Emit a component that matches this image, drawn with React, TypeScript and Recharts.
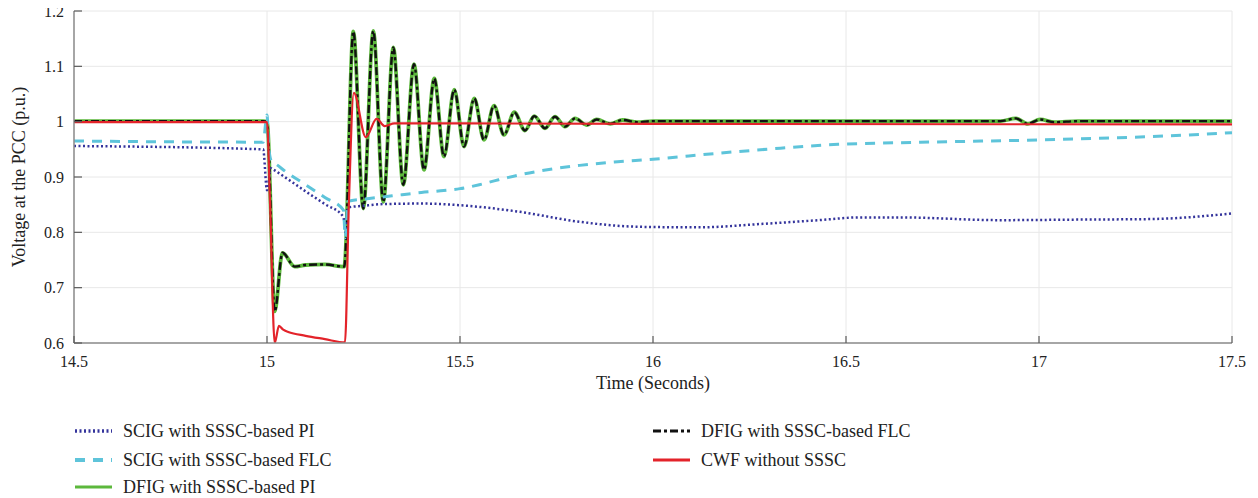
import { LineChart, Line, XAxis, YAxis, CartesianGrid, Label } from 'recharts';

// time axis and voltage axis ticks
const xTicks = [14.5, 15, 15.5, 16, 16.5, 17, 17.5];
const yTicks = [0.6, 0.7, 0.8, 0.9, 1, 1.1, 1.2];

// SCIG with SSSC-based PI
const scigPiT = [14.5, 14.99, 15.0, 15.01, 15.015, 15.05, 15.1, 15.15, 15.198, 15.203, 15.21, 15.25, 15.3, 15.4, 15.5, 15.655, 15.81, 15.966, 16.12, 16.277, 16.43, 16.536, 16.64, 16.9, 17.1, 17.29, 17.5];
const scigPiV = [0.956, 0.95, 0.876, 0.916, 0.914, 0.898, 0.874, 0.851, 0.828, 0.8, 0.845, 0.848, 0.851, 0.852, 0.849, 0.837, 0.819, 0.81, 0.809, 0.815, 0.822, 0.827, 0.827, 0.822, 0.823, 0.824, 0.834];

// SCIG with SSSC-based FLC
const scigFlcT = [14.5, 14.99, 15.0, 15.005, 15.012, 15.017, 15.05, 15.1, 15.15, 15.198, 15.203, 15.21, 15.25, 15.3, 15.35, 15.4, 15.45, 15.5, 15.55, 15.6, 15.655, 15.7, 15.81, 15.9, 16.0, 16.17, 16.33, 16.48, 16.64, 17.0, 17.29, 17.5];
const scigFlcV = [0.965, 0.963, 1.012, 0.95, 0.928, 0.926, 0.909, 0.886, 0.863, 0.84, 0.79, 0.856, 0.86, 0.864, 0.868, 0.872, 0.875, 0.879, 0.886, 0.895, 0.904, 0.91, 0.921, 0.927, 0.932, 0.943, 0.952, 0.959, 0.962, 0.967, 0.973, 0.98];

// DFIG (PI and FLC traces overlap)
const dfigT = [14.5, 14.99, 15.0, 15.02, 15.04, 15.072, 15.1, 15.15, 15.2, 15.2236, 15.2495, 15.2754, 15.3013, 15.3272, 15.3531, 15.3808, 15.4067, 15.4334, 15.4585, 15.4852, 15.5104, 15.537, 15.5622, 15.5881, 15.614, 15.6407, 15.6684, 15.6925, 15.7202, 15.7461, 15.772, 15.798, 15.828, 15.854, 15.889, 15.921, 15.96, 16.0, 16.9, 16.94, 16.971, 17.003, 17.04, 17.1, 17.5];
const dfigPiV = [1.001, 1.001, 1.0, 0.657, 0.763, 0.738, 0.741, 0.742, 0.738, 1.163, 0.843, 1.164, 0.855, 1.134, 0.886, 1.104, 0.913, 1.078, 0.937, 1.058, 0.955, 1.042, 0.967, 1.029, 0.976, 1.017, 0.984, 1.01, 0.988, 1.009, 0.991, 1.006, 0.994, 1.004, 0.996, 1.003, 0.999, 1.001, 1.001, 1.006, 0.996, 1.004, 0.999, 1.001, 1.001];
const dfigFlcV = [1.001, 1.001, 1.0, 0.657, 0.763, 0.738, 0.741, 0.742, 0.738, 1.163, 0.843, 1.164, 0.855, 1.134, 0.886, 1.104, 0.913, 1.078, 0.937, 1.058, 0.955, 1.042, 0.967, 1.029, 0.976, 1.017, 0.984, 1.01, 0.988, 1.009, 0.991, 1.006, 0.994, 1.004, 0.996, 1.003, 0.999, 1.001, 1.001, 1.006, 0.996, 1.004, 0.999, 1.001, 1.001];

// CWF without SSSC
const cwfT = [14.5, 15.0, 15.008, 15.02, 15.031, 15.042, 15.055, 15.1, 15.15, 15.202, 15.212, 15.225, 15.256, 15.284, 15.305, 15.33, 16.0, 17.5];
const cwfV = [0.999, 0.999, 0.85, 0.6, 0.631, 0.624, 0.62, 0.613, 0.607, 0.601, 0.85, 1.052, 0.972, 1.005, 0.992, 0.997, 0.996, 0.995];

const toPoints = (t: number[], v: number[]) => t.map((x, i) => ({ t: x, v: v[i] }));

const serif = '"Liberation Serif", "DejaVu Serif", serif';
const frame = '#8c8c8c';
const tickMark = '#5a5a5a';

const series = [
  { name: 'DFIG with SSSC-based PI', data: toPoints(dfigT, dfigPiV), color: '#5cb83c', width: 3.8, dash: undefined },
  { name: 'DFIG with SSSC-based FLC', data: toPoints(dfigT, dfigFlcV), color: '#111111', width: 2.4, dash: '8 3 3 3' },
  { name: 'SCIG with SSSC-based PI', data: toPoints(scigPiT, scigPiV), color: '#34349c', width: 2.5, dash: '2 2.5' },
  { name: 'SCIG with SSSC-based FLC', data: toPoints(scigFlcT, scigFlcV), color: '#5ec4da', width: 3, dash: '10 8' },
  { name: 'CWF without SSSC', data: toPoints(cwfT, cwfV), color: '#e3232a', width: 2.2, dash: undefined },
];

const legendItems = [
  { name: 'SCIG with SSSC-based PI', col: 0, row: 0 },
  { name: 'SCIG with SSSC-based FLC', col: 0, row: 1 },
  { name: 'DFIG with SSSC-based PI', col: 0, row: 2 },
  { name: 'DFIG with SSSC-based FLC', col: 1, row: 0 },
  { name: 'CWF without SSSC', col: 1, row: 1 },
];

// left ticks: label outside, short mark pointing into the plot
const LeftTick = ({ x, y, payload }: any) => (
  <g>
    <text x={x} y={y} dy="0.35em" textAnchor="end" fill="#222" fontSize={16} fontFamily={serif}>{String(payload.value)}</text>
    <line x1={x + 10} x2={x + 18} y1={y} y2={y} stroke={tickMark} strokeWidth={1.2} />
  </g>
);

const BottomTick = ({ x, y, payload }: any) => (
  <g>
    <text x={x} y={y} dy="0.71em" textAnchor="middle" fill="#222" fontSize={16} fontFamily={serif}>{String(payload.value)}</text>
    <line x1={x} x2={x} y1={y - 13} y2={y - 20} stroke={tickMark} strokeWidth={1.2} />
  </g>
);

const RightTick = ({ x, y }: any) => (
  <line x1={x - 8} x2={x} y1={y} y2={y} stroke={tickMark} strokeWidth={1.2} />
);

const TopTick = ({ x, y }: any) => (
  <line x1={x} x2={x} y1={y} y2={y + 7} stroke={tickMark} strokeWidth={1.2} />
);

const YTitle = ({ viewBox }: any) => {
  const cx = 19;
  const cy = viewBox.y + viewBox.height / 2;
  return (
    <text x={cx} y={cy} transform={`rotate(-90 ${cx} ${cy})`} textAnchor="middle" dominantBaseline="central"
      fill="#222" fontSize={18} fontFamily={serif}>
      Voltage at the PCC (p.u.)
    </text>
  );
};

const XTitle = ({ viewBox }: any) => (
  <text x={viewBox.x + viewBox.width / 2} y={383} textAnchor="middle" dominantBaseline="central"
    fill="#222" fontSize={18} fontFamily={serif}>
    Time (Seconds)
  </text>
);

export default function App() {
  return (
    <div style={{ position: 'relative', margin: '-8px 0 0 -8px', width: 1258, height: 498, background: '#fff' }}>
      <LineChart width={1258} height={400} margin={{ top: 11, right: 26, bottom: 7, left: 0 }}>
        <CartesianGrid stroke="#e8e8e8" strokeWidth={1} />
        <XAxis xAxisId={0} dataKey="t" type="number" domain={[14.5, 17.5]} ticks={xTicks} allowDataOverflow
          height={50} tickSize={0} tickMargin={13} tickLine={false} axisLine={{ stroke: frame, strokeWidth: 1.5 }}
          tick={BottomTick} interval={0}>
          <Label content={XTitle} />
        </XAxis>
        <XAxis xAxisId="top" type="number" domain={[14.5, 17.5]} ticks={xTicks} orientation="top"
          tick={TopTick} axisLine={{ stroke: frame, strokeWidth: 1.5 }} tickSize={0} tickMargin={0} tickLine={false}
          height={0} interval={0} />
        <YAxis yAxisId={0} type="number" domain={[0.6, 1.2]} ticks={yTicks} allowDataOverflow width={74}
          tickSize={0} tickMargin={10} tickLine={false} axisLine={{ stroke: frame, strokeWidth: 1.5 }}
          tick={LeftTick} interval={0}>
          <Label content={YTitle} />
        </YAxis>
        <YAxis yAxisId="r" type="number" domain={[0.6, 1.2]} ticks={yTicks} orientation="right"
          tick={RightTick} axisLine={{ stroke: frame, strokeWidth: 1.5 }} tickSize={0} tickMargin={0} tickLine={false}
          width={0} interval={0} />
        {series.map((s) => (
          <Line key={s.name} data={s.data} dataKey="v" name={s.name} type="monotone" stroke={s.color}
            strokeWidth={s.width} strokeDasharray={s.dash} dot={false} activeDot={false} isAnimationActive={false} />
        ))}
      </LineChart>
      {legendItems.map((it) => {
        const s = series.find((x) => x.name === it.name)!;
        const left = it.col === 0 ? 75 : 653;
        const top = [431, 460, 487][it.row];
        return (
          <div key={it.name} style={{ position: 'absolute', left, top: top - 12, height: 24, display: 'flex', alignItems: 'center' }}>
            <svg width={37} height={8} style={{ display: 'block' }}>
              <line x1={0} y1={4} x2={37} y2={4} stroke={s.color} strokeWidth={s.dash ? s.width + 0.8 : 3.2}
                strokeDasharray={s.dash} />
            </svg>
            <span style={{ marginLeft: 11, fontFamily: serif, fontSize: 18, color: '#222', whiteSpace: 'nowrap' }}>{it.name}</span>
          </div>
        );
      })}
    </div>
  );
}
